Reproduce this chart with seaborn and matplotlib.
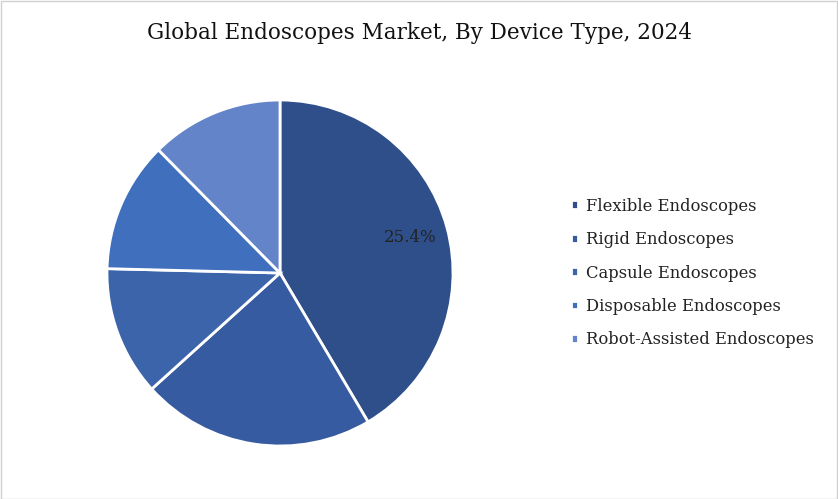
import matplotlib
matplotlib.use("Agg")
import matplotlib.pyplot as plt
import matplotlib.patches as mpatches
import seaborn as sns

# data
device_types = ["Flexible Endoscopes", "Rigid Endoscopes", "Capsule Endoscopes",
                "Disposable Endoscopes", "Robot-Assisted Endoscopes"]
shares = [41.5, 21.8, 12.1, 12.2, 12.4]
slice_labels = ["25.4%", "", "", "", ""]
colors = ["#2F4F8A", "#365BA0", "#3C64AB", "#406FBE", "#6384C8"]

sns.set_theme(style="white")
plt.rcParams["font.family"] = ["DejaVu Serif"]

fig = plt.figure(figsize=(8.38, 4.99), dpi=100)
W, H = 838, 499
cx, cy, R = 280, 273, 173
ax = fig.add_axes([(cx - R) / W, (H - cy - R) / H, 2 * R / W, 2 * R / H])

wedges, texts = ax.pie(
    shares, labels=slice_labels, colors=colors, startangle=90, counterclock=False,
    labeldistance=0.78, radius=1,
    wedgeprops=dict(edgecolor="white", linewidth=2),
    textprops=dict(fontsize=12, color="#222222", ha="center", va="center"),
)
ax.set_xlim(-1, 1)
ax.set_ylim(-1, 1)
ax.axis("off")

fig.suptitle("Global Endoscopes Market, By Device Type, 2024", y=1 - 33 / H,
             fontsize=15.5, color="#111111", va="center")

fig.legend(wedges, device_types, loc="center left",
           bbox_to_anchor=(556 / W, 1 - 273 / H), frameon=False, fontsize=11.8,
           handlelength=0.45, handleheight=0.45, handletextpad=0.45,
           labelspacing=1.0, labelcolor="#222222")

fig.patches.append(mpatches.Rectangle((0.001, 0.001), 0.998, 0.997,
                                      transform=fig.transFigure, fill=False,
                                      edgecolor="#D0D0D0", linewidth=1))

fig.savefig("out.png", dpi=100)
